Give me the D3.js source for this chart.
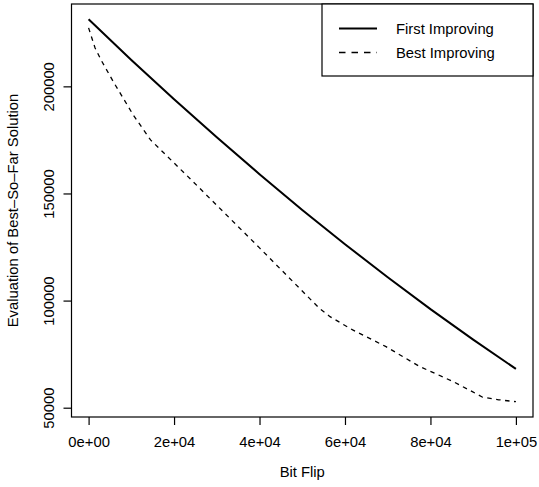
<!DOCTYPE html>
<html><head><meta charset="utf-8">
<script src="https://cdn.jsdelivr.net/npm/d3@7"></script>
<style>body{margin:0;background:#fff}svg text{font-family:"Liberation Sans",Arial,sans-serif;font-size:14.8px;fill:#000}</style>
</head><body>
<script>
const firstX = [0,10000,20000,30000,40000,50000,60000,70000,80000,90000,100000];
const firstY = [231300,212300,194000,176200,159000,142300,126300,110900,96000,81800,68100];
const bestX = [0,1500,3000,5750,10400,14500,24000,40000,54000,56500,61800,69600,77400,85200,89800,92200,96000,100000];
const bestY = [227300,218000,212000,202300,186800,175000,156400,124600,96400,92500,86300,78500,69300,62300,57500,54900,53700,52800];
const xTicks = [0,20000,40000,60000,80000,100000];
const xTickLabels = ["0e+00","2e+04","4e+04","6e+04","8e+04","1e+05"];
const yTicks = [50000,100000,150000,200000];
const seriesNames = ["First Improving","Best Improving"];

const W=539,H=487, L=71.5, R=533, T=4, B=417;
const svg=d3.select("body").append("svg").attr("width",W).attr("height",H);
svg.append("rect").attr("width",W).attr("height",H).attr("fill","#fff");

const xAll=firstX.concat(bestX), yAll=firstY.concat(bestY);
const xe=d3.extent(xAll), ye=d3.extent(yAll);
const xp=(xe[1]-xe[0])*0.04, yp=(ye[1]-ye[0])*0.04;
const x=d3.scaleLinear().domain([xe[0]-xp,xe[1]+xp]).range([L,R]);
const y=d3.scaleLinear().domain([ye[0]-yp,ye[1]+yp]).range([B,T]);

const line=d3.line().x(d=>x(d[0])).y(d=>y(d[1]));
svg.append("path").datum(firstX.map((v,i)=>[v,firstY[i]])).attr("d",line)
  .attr("fill","none").attr("stroke","#000").attr("stroke-width",2);
svg.append("path").datum(bestX.map((v,i)=>[v,bestY[i]])).attr("d",line)
  .attr("fill","none").attr("stroke","#000").attr("stroke-width",1.3).attr("stroke-dasharray","4.5,4.5");

// box
svg.append("rect").attr("x",L).attr("y",T).attr("width",R-L).attr("height",B-T)
  .attr("fill","none").attr("stroke","#000").attr("stroke-width",1.2);

// x axis
const xg=svg.append("g").attr("transform",`translate(0,${B})`)
  .call(d3.axisBottom(x).tickValues(xTicks).tickSize(8).tickFormat((d,i)=>xTickLabels[i]));
xg.select(".domain").remove();
xg.selectAll("line").attr("stroke","#000").attr("stroke-width",1.2);
xg.selectAll("text").attr("dy",null).attr("y",30)
  .style("font-family",'"Liberation Sans",Arial,sans-serif').style("font-size","14.8px");

// y axis
const yg=svg.append("g").attr("transform",`translate(${L},0)`)
  .call(d3.axisLeft(y).tickValues(yTicks).tickSize(8).tickFormat(d3.format("d")));
yg.select(".domain").remove();
yg.selectAll("line").attr("stroke","#000").attr("stroke-width",1.2);
yg.selectAll(".tick text").attr("dy",null).attr("text-anchor","middle")
  .attr("x",0).attr("y",0)
  .attr("transform",`translate(${54-L},0) rotate(-90)`)
  .style("font-family",'"Liberation Sans",Arial,sans-serif').style("font-size","14.8px");

svg.append("text").attr("x",(L+R)/2).attr("y",477).attr("text-anchor","middle").text("Bit Flip");
svg.append("text").attr("transform",`translate(18,${(T+B)/2}) rotate(-90)`).attr("text-anchor","middle")
  .text("Evaluation of Best–So–Far Solution");

// legend
const lg=svg.append("g");
lg.append("rect").attr("x",322).attr("y",T).attr("width",R-322).attr("height",72)
  .attr("fill","#fff").attr("stroke","#000").attr("stroke-width",1.2);
lg.append("line").attr("x1",339).attr("x2",377).attr("y1",28.5).attr("y2",28.5).attr("stroke","#000").attr("stroke-width",2);
lg.append("line").attr("x1",339).attr("x2",377).attr("y1",52.5).attr("y2",52.5).attr("stroke","#000").attr("stroke-width",1.3).attr("stroke-dasharray","6.5,6");
lg.append("text").attr("x",396).attr("y",33.5).text(seriesNames[0]);
lg.append("text").attr("x",396).attr("y",57.5).text(seriesNames[1]);
</script>
</body></html>
